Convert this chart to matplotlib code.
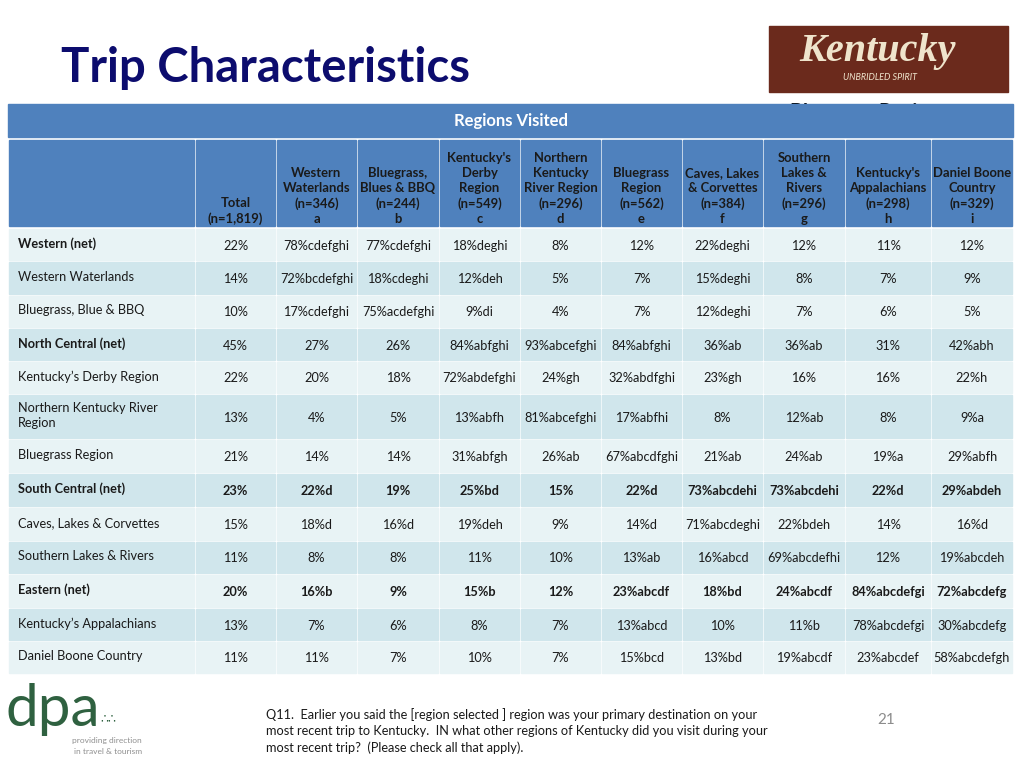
import matplotlib.pyplot as plt
from matplotlib.patches import Rectangle

# ---- data ----
col_names = ['Total', 'Western\nWaterlands', 'Bluegrass,\nBlues & BBQ', "Kentucky's\nDerby\nRegion",
             'Northern\nKentucky\nRiver Region', 'Bluegrass\nRegion', 'Caves, Lakes\n& Corvettes',
             'Southern\nLakes &\nRivers', "Kentucky's\nAppalachians", 'Daniel Boone\nCountry']
col_n = ['1,819', '346', '244', '549', '296', '562', '384', '296', '298', '329']
col_letters = ['', 'a', 'b', 'c', 'd', 'e', 'f', 'g', 'h', 'i']

row_labels = ['Western (net)', 'Western Waterlands', 'Bluegrass, Blue & BBQ', 'North Central (net)',
              'Kentucky\u2019s Derby Region', 'Northern Kentucky River\nRegion', 'Bluegrass Region',
              'South Central (net)', 'Caves, Lakes & Corvettes', 'Southern Lakes & Rivers',
              'Eastern (net)', 'Kentucky\u2019s Appalachians', 'Daniel Boone Country']
label_bold = [True, False, False, True, False, False, False, True, False, False, True, False, False]
value_bold = [False, False, False, False, False, False, False, True, False, False, True, False, False]

pct = [
    [22, 78, 77, 18, 8, 12, 22, 12, 11, 12],
    [14, 72, 18, 12, 5, 7, 15, 8, 7, 9],
    [10, 17, 75, 9, 4, 7, 12, 7, 6, 5],
    [45, 27, 26, 84, 93, 84, 36, 36, 31, 42],
    [22, 20, 18, 72, 24, 32, 23, 16, 16, 22],
    [13, 4, 5, 13, 81, 17, 8, 12, 8, 9],
    [21, 14, 14, 31, 26, 67, 21, 24, 19, 29],
    [23, 22, 19, 25, 15, 22, 73, 73, 22, 29],
    [15, 18, 16, 19, 9, 14, 71, 22, 14, 16],
    [11, 8, 8, 11, 10, 13, 16, 69, 12, 19],
    [20, 16, 9, 15, 12, 23, 18, 24, 84, 72],
    [13, 7, 6, 8, 7, 13, 10, 11, 78, 30],
    [11, 11, 7, 10, 7, 15, 13, 19, 23, 58],
]
sig = [
    ['', 'cdefghi', 'cdefghi', 'deghi', '', '', 'deghi', '', '', ''],
    ['', 'bcdefghi', 'cdeghi', 'deh', '', '', 'deghi', '', '', ''],
    ['', 'cdefghi', 'acdefghi', 'di', '', '', 'deghi', '', '', ''],
    ['', '', '', 'abfghi', 'abcefghi', 'abfghi', 'ab', 'ab', '', 'abh'],
    ['', '', '', 'abdefghi', 'gh', 'abdfghi', 'gh', '', '', 'h'],
    ['', '', '', 'abfh', 'abcefghi', 'abfhi', '', 'ab', '', 'a'],
    ['', '', '', 'abfgh', 'ab', 'abcdfghi', 'ab', 'ab', 'a', 'abfh'],
    ['', 'd', '', 'bd', '', 'd', 'abcdehi', 'abcdehi', 'd', 'abdeh'],
    ['', 'd', 'd', 'deh', '', 'd', 'abcdeghi', 'bdeh', '', 'd'],
    ['', '', '', '', '', 'ab', 'abcd', 'abcdefhi', '', 'abcdeh'],
    ['', 'b', '', 'b', '', 'abcdf', 'bd', 'abcdf', 'abcdefgi', 'abcdefg'],
    ['', '', '', '', '', 'abcd', '', 'b', 'abcdefgi', 'abcdefg'],
    ['', '', '', '', '', 'bcd', 'bd', 'abcdf', 'abcdef', 'abcdefgh'],
]

footnote = ('Q11.  Earlier you said the [region selected ] region was your primary destination on your\n'
            'most recent trip to Kentucky.  IN what other regions of Kentucky did you visit during your\n'
            'most recent trip?  (Please check all that apply).')

# ---- layout (pixels) ----
col_edges = [8, 195, 276, 357, 439, 520, 601, 682, 763, 845, 931, 1013]
row_edges = [228, 261, 295, 328, 361, 394, 439, 473, 507, 541, 574, 608, 641, 674]
blue = '#4f81bd'
row_dark, row_light = '#d0e6ec', '#e8f3f5'

plt.rcParams['font.family'] = ['Lato', 'DejaVu Sans']
fig = plt.figure(figsize=(10.24, 7.68), dpi=100)
ax = fig.add_axes([0, 0, 1, 1])
ax.set_xlim(0, 1024)
ax.set_ylim(768, 0)
ax.axis('off')

# title + logos
ax.text(61, 82, 'Trip Characteristics', fontsize=34, fontweight='bold', color='#0c0c6e', va='baseline')
ax.add_patch(Rectangle((769, 26), 239, 66, color='#6b2a1c', zorder=2))
ax.text(878, 52, 'Kentucky', fontsize=29, fontweight='bold', style='italic', family='Liberation Serif',
        color='#efe4cc', ha='center', va='center', zorder=3)
ax.text(880, 77, 'UNBRIDLED SPIRIT', fontsize=6.5, style='italic', color='#efe4cc', ha='center',
        va='center', zorder=3)
ax.text(865, 112, 'Bluegrass Region', fontsize=14, fontweight='bold', ha='center', va='center', zorder=1)

# top band
ax.add_patch(Rectangle((col_edges[0], 104), col_edges[-1] - col_edges[0], 33, color=blue, zorder=2))
ax.text((col_edges[0] + col_edges[-1]) / 2, 121, 'Regions Visited', fontsize=12, fontweight='bold',
        color='white', ha='center', va='center', zorder=3)

# column headers
for j in range(len(col_edges) - 1):
    x0, x1 = col_edges[j], col_edges[j + 1]
    ax.add_patch(Rectangle((x0 + 1, 140), x1 - x0 - 2, 86, color=blue, zorder=2))
    if j == 0:
        continue
    k = j - 1
    txt = f'{col_names[k]}\n(n={col_n[k]})'
    if col_letters[k]:
        txt += '\n' + col_letters[k]
    ax.text((x0 + x1) / 2, 225, txt, fontsize=9.4, fontweight='bold', color='#1a1a1a',
            ha='center', va='bottom', multialignment='center', linespacing=1.3, zorder=3)

# body
for i, label in enumerate(row_labels):
    y0, y1 = row_edges[i], row_edges[i + 1]
    yc = (y0 + y1) / 2
    fill = row_light if i % 2 == 0 else row_dark
    for j in range(len(col_edges) - 1):
        x0, x1 = col_edges[j], col_edges[j + 1]
        ax.add_patch(Rectangle((x0 + 1, y0 + 1), x1 - x0 - 2, y1 - y0 - 2, color=fill, zorder=2))
    ax.text(18, yc - 1, label, fontsize=9.2, fontweight='bold' if label_bold[i] else 'normal',
            color='#1a1a1a', ha='left', va='center', linespacing=1.3, zorder=3)
    for k in range(len(pct[i])):
        cx = (col_edges[k + 1] + col_edges[k + 2]) / 2
        ax.text(cx, yc + 1, f'{pct[i][k]}%{sig[i][k]}', fontsize=9.2,
                fontweight='bold' if value_bold[i] else 'normal', color='#1a1a1a',
                ha='center', va='center', zorder=3)

# footer
ax.text(6, 726, 'dpa', fontsize=42, color='#2f6140', ha='left', va='baseline')
ax.text(100, 722, '\u2234\u2234', fontsize=9, color='#2f6140', ha='left', va='baseline')
ax.text(142, 741, 'providing direction', fontsize=6, color='#909090', ha='right', va='center')
ax.text(142, 752, 'in travel & tourism', fontsize=6, color='#909090', ha='right', va='center')
ax.text(266, 731, footnote, fontsize=9.2, color='#1a1a1a', ha='left', va='center', linespacing=1.4,
        family=['Liberation Sans Narrow', 'Lato'])
ax.text(886, 720, '21', fontsize=11, color='#8c8c8c', ha='center', va='center')

plt.savefig('out.png', dpi=100)
